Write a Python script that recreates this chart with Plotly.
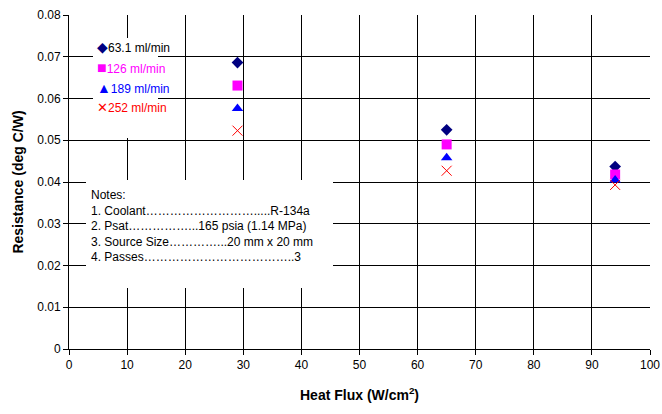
import plotly.graph_objects as go

heat_flux = [29, 65, 94]
r_63 = [0.0686, 0.0525, 0.0437]
r_126 = [0.0631, 0.0490, 0.0418]
r_189 = [0.0576, 0.0458, 0.0405]
r_252 = [0.0523, 0.0427, 0.0393]

y_tickvals = [0, 0.01, 0.02, 0.03, 0.04, 0.05, 0.06, 0.07, 0.08]
y_ticktext = ["0", "0.01", "0.02", "0.03", "0.04", "0.05", "0.06", "0.07", "0.08"]

series = [
    ("63.1 ml/min", r_63, "diamond", "#000080", 9, "#000000", "◆", 14),
    ("126 ml/min", r_126, "square", "#FF00FF", 10, "#FF00FF", "■", 16),
    ("189 ml/min", r_189, "triangle-up", "#0000FF", 10, "#0000FF", "▲", 14),
    ("252 ml/min", r_252, "x-thin", "#FF0000", 10, "#FF0000", "✕", 13),
]

notes_lines = [
    "Notes:",
    "1. Coolant" + "…" * 9 + "....." + "R-134a",
    "2. Psat" + "…" * 5 + "..." + "165 psia (1.14 MPa)",
    "3. Source Size" + "…" * 4 + "..." + "20 mm x 20 mm",
    "4. Passes" + "…" * 12 + ".." + "3",
]

W, H = 662, 414
L, R, T, B = 69, 12, 15, 65
PW, PH = W - L - R, H - T - B


def px(xw):
    return (xw - L) / PW


def py(yw):
    return (H - B - yw) / PH


fig = go.Figure()
for name, vals, sym, col, sz, tcol, glyph, gsize in series:
    marker = dict(symbol=sym, color=col, size=sz)
    if sym == "x-thin":
        marker["line"] = dict(color=col, width=1)
    fig.add_trace(go.Scatter(
        x=heat_flux, y=vals, mode="markers", name=name, marker=marker,
        showlegend=False))

# legend box
fig.add_shape(type="rect", xref="paper", yref="paper",
              x0=px(93), x1=px(158), y0=py(138), y1=py(38),
              fillcolor="white", line=dict(width=0), layer="above")
for i, (name, vals, sym, col, sz, tcol, glyph, gsize) in enumerate(series):
    yc = 47 + i * 20.3
    fig.add_annotation(xref="paper", yref="paper", x=px(95), y=py(yc),
                       xanchor="left", yanchor="middle", showarrow=False,
                       text=f'<span style="color:{col};font-size:{gsize}px">{glyph}</span>'
                            f'<span style="color:{tcol}">{name}</span>',
                       font=dict(family="Arial, Liberation Sans", size=12))

fig.add_shape(type="rect", xref="paper", yref="paper",
              x0=px(86), x1=px(333), y0=py(288), y1=py(180),
              fillcolor="white", line=dict(width=0), layer="above")
fig.add_annotation(xref="paper", yref="paper", x=px(89), y=py(186),
                   xanchor="left", yanchor="top", align="left", showarrow=False,
                   text="<br>".join(notes_lines),
                   font=dict(family="Arial, Liberation Sans", size=12, color="black"))

fig.update_layout(
    width=W, height=H,
    margin=dict(l=L, r=R, t=T, b=B),
    paper_bgcolor="white", plot_bgcolor="white",
    font=dict(family="Arial, Liberation Sans", size=12, color="black"),
    showlegend=False,
    xaxis=dict(range=[0, 100], dtick=10, showgrid=True, gridcolor="black", gridwidth=1,
               showline=True, linecolor="black", linewidth=1, ticks="outside",
               ticklen=5, tickcolor="black", zeroline=False, automargin=False,
               title=dict(text="<b>Heat Flux (W/cm<sup>2</sup>)</b>", font=dict(size=14), standoff=18)),
    yaxis=dict(range=[0, 0.08], tickvals=y_tickvals, ticktext=y_ticktext,
               showgrid=True, gridcolor="black", gridwidth=1,
               showline=True, linecolor="black", linewidth=1, ticks="outside",
               ticklen=5, tickcolor="black", zeroline=False, automargin=False,
               title=dict(text="<b>Resistance (deg C/W)</b>", font=dict(size=14), standoff=10)),
)

fig.write_html("out.html", default_width=f"{W}px", default_height=f"{H}px",
               config={"displayModeBar": False},
               post_script="document.body.style.margin='0';document.body.style.overflow='hidden';")
